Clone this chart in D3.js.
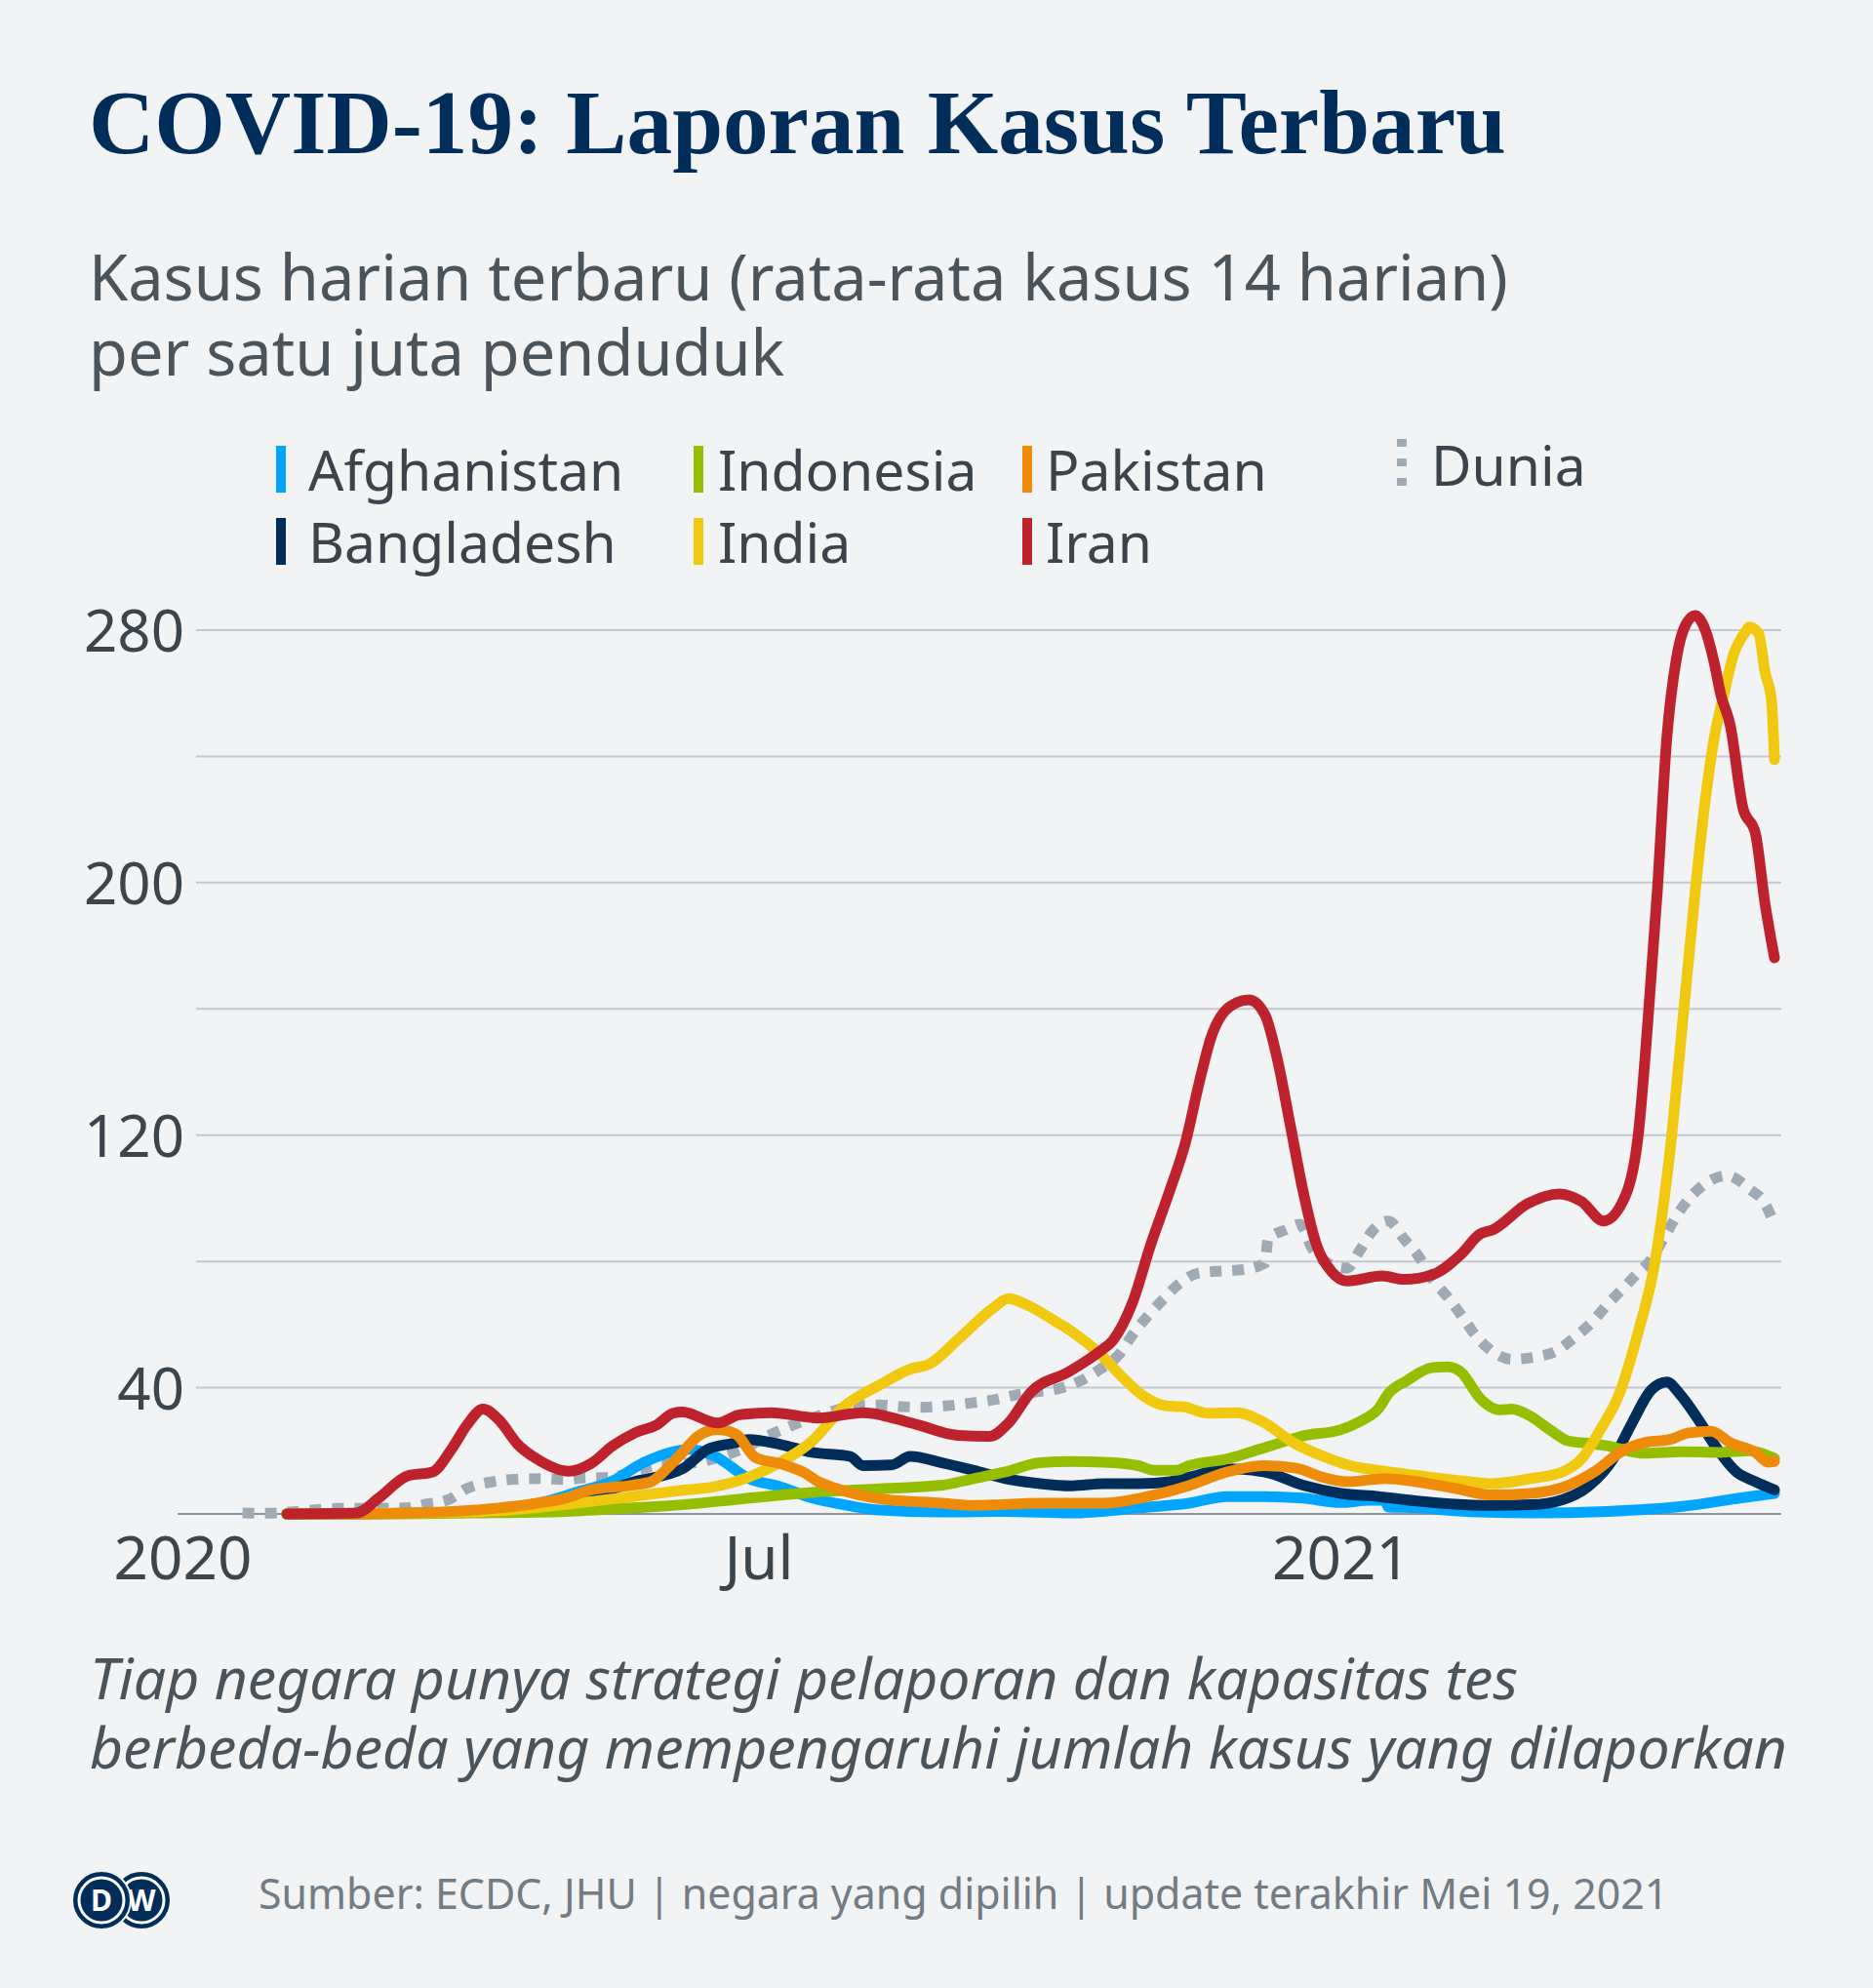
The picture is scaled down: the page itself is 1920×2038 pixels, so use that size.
<!DOCTYPE html>
<html>
<head>
<meta charset="utf-8">
<script src="https://cdn.jsdelivr.net/npm/d3@7"></script>
<style>
  html, body { margin: 0; padding: 0; background: #f1f3f5; }
  svg { display: block; }
</style>
</head>
<body>
<svg id="chart" width="1920" height="2038"></svg>
<script>
// ---------------- DATA ----------------
const titleText = "COVID-19: Laporan Kasus Terbaru";
const subtitleLines = ["Kasus harian terbaru (rata-rata kasus 14 harian)", "per satu juta penduduk"];
const noteLines = ["Tiap negara punya strategi pelaporan dan kapasitas tes",
                   "berbeda-beda yang mempengaruhi jumlah kasus yang dilaporkan"];
const sourceText = "Sumber: ECDC, JHU | negara yang dipilih | update terakhir Mei 19, 2021";

const xDomain = ["2020-01-01", "2021-05-18"];
const xTickDates = ["2020-01-01", "2020-07-01", "2021-01-01"];
const xTickLabels = ["2020", "Jul", "2021"];
const yGridValues = [0, 40, 80, 120, 160, 200, 240, 280];
const yTickValues = [40, 120, 200, 280];

const afghanistan = [
  ["2020-02-03",0],["2020-03-15",0.2],["2020-04-01",0.6],["2020-04-15",2],["2020-04-25",4],["2020-05-05",7],
  ["2020-05-15",10],["2020-05-26",16.4],["2020-06-04",19.7],["2020-06-09",20.5],["2020-06-17",18.4],
  ["2020-06-28",11.2],["2020-07-08",8.6],["2020-07-18",5],["2020-07-28",2.9],["2020-08-07",1.3],
  ["2020-08-28",0.6],["2020-09-17",0.8],["2020-10-08",0.3],["2020-10-29",1.9],["2020-11-14",3.4],
  ["2020-11-26",5.5],["2020-12-08",5.5],["2020-12-20",5],["2021-01-01",3.6],["2021-01-10",4.3],
  ["2021-01-15",4.3],["2021-01-16",2.2],["2021-01-25",2],["2021-02-06",1],["2021-03-02",0.3],
  ["2021-03-26",0.8],["2021-04-19",2.4],["2021-05-07",5],["2021-05-18",6.5]
];
const bangladesh = [
  ["2020-02-03",0],["2020-03-15",0.2],["2020-04-10",1.5],["2020-04-25",3],["2020-05-07",5],["2020-05-22",10],
  ["2020-06-07",14.3],["2020-06-15",20.5],["2020-06-23",22.4],["2020-06-28",23.6],["2020-07-08",22],
  ["2020-07-18",19.5],["2020-07-30",18.2],["2020-08-03",15.3],["2020-08-12",15.5],["2020-08-18",18.2],
  ["2020-08-28",16.2],["2020-09-07",13.8],["2020-09-17",11.2],["2020-09-28",9.6],["2020-10-08",8.9],
  ["2020-10-18",9.6],["2020-10-29",9.6],["2020-11-08",10.2],["2020-11-14",11.6],["2020-11-26",14.3],
  ["2020-12-08",13.3],["2020-12-20",9.1],["2021-01-01",6.5],["2021-01-13",5.5],["2021-01-25",4.1],
  ["2021-02-06",3.1],["2021-02-18",2.7],["2021-03-02",2.9],["2021-03-12",4.5],["2021-03-20",8.6],
  ["2021-03-28",17.4],["2021-04-03",28.8],["2021-04-09",39.2],["2021-04-14",41.8],["2021-04-18",38.1],
  ["2021-04-24",29.8],["2021-04-30",20.5],["2021-05-06",13.3],["2021-05-12",10.2],["2021-05-18",7.6]
];
const indonesia = [
  ["2020-02-03",0],["2020-03-01",0],["2020-04-01",0.3],["2020-05-01",0.8],["2020-05-22",1.9],["2020-06-07",2.9],
  ["2020-06-28",5],["2020-07-18",6.8],["2020-08-07",7.9],["2020-08-28",9.1],["2020-09-07",11.2],
  ["2020-09-17",13.3],["2020-09-28",16.2],["2020-10-08",16.6],["2020-10-18",16.4],["2020-10-29",15.3],
  ["2020-11-03",13.8],["2020-11-10",13.8],["2020-11-14",15.3],["2020-11-26",17.4],["2020-12-08",21],
  ["2020-12-20",24.7],["2021-01-01",26.7],["2021-01-07",29.3],["2021-01-13",33.5],["2021-01-16",38.1],
  ["2021-01-22",42.3],["2021-01-30",46.4],["2021-02-04",46.6],["2021-02-08",44.9],["2021-02-14",36.6],
  ["2021-02-20",33],["2021-02-24",33.2],["2021-03-02",30.9],["2021-03-08",26.7],["2021-03-14",23.1],
  ["2021-03-20",22.4],["2021-03-26",21.6],["2021-04-07",19.2],["2021-04-19",19.7],["2021-05-01",19.5],
  ["2021-05-10",20],["2021-05-18",17.6]
];
const india = [
  ["2020-02-03",0],["2020-03-15",0.3],["2020-04-10",1],["2020-05-01",3],["2020-05-22",5.5],["2020-06-07",7.5],
  ["2020-06-17",8.6],["2020-06-28",11.7],["2020-07-08",16.4],["2020-07-18",23.1],["2020-07-28",34],
  ["2020-08-08",40.7],["2020-08-18",45.9],["2020-08-24",47.5],["2020-09-02",55.2],["2020-09-13",65.1],
  ["2020-09-18",68.2],["2020-09-23",66.6],["2020-10-03",60.9],["2020-10-08",57.8],["2020-10-17",50.6],
  ["2020-10-24",43.3],["2020-10-31",37.1],["2020-11-07",34.2],["2020-11-12",34],["2020-11-20",31.9],
  ["2020-11-29",32.1],["2020-12-08",28.8],["2020-12-17",22.6],["2020-12-26",18.4],["2021-01-04",15.3],
  ["2021-01-13",13.8],["2021-01-25",12.2],["2021-02-06",10.7],["2021-02-18",9.6],["2021-03-02",11.2],
  ["2021-03-12",13.3],["2021-03-18",17.4],["2021-03-24",26.7],["2021-03-30",38.1],["2021-04-05",57.8],
  ["2021-04-10",78.5],["2021-04-15",115],["2021-04-19",156],["2021-04-23",197.6],["2021-04-26",225],
  ["2021-04-29",246],["2021-05-02",259.7],["2021-05-05",272],["2021-05-09",279.7],["2021-05-10",281],
  ["2021-05-13",279],["2021-05-15",266.7],["2021-05-17",258.3],["2021-05-18",239]
];
const pakistan = [
  ["2020-02-03",0],["2020-02-25",0],["2020-03-15",0.3],["2020-04-10",1.9],["2020-04-20",3.1],["2020-05-01",5],
  ["2020-05-09",7.6],["2020-05-22",9.1],["2020-05-28",10.2],["2020-06-03",15.3],["2020-06-07",19.5],
  ["2020-06-12",24.7],["2020-06-18",26.7],["2020-06-24",25.2],["2020-06-30",17.9],["2020-07-08",15.9],
  ["2020-07-15",13.3],["2020-07-20",10.2],["2020-07-28",7.3],["2020-08-07",5],["2020-08-28",3.4],
  ["2020-09-07",2.7],["2020-09-28",3.4],["2020-10-18",3.4],["2020-11-03",6],["2020-11-14",9],
  ["2020-11-26",13.3],["2020-12-08",15.3],["2020-12-18",14.5],["2020-12-26",11.7],["2021-01-03",10.2],
  ["2021-01-15",11.2],["2021-01-25",10.2],["2021-02-06",8.1],["2021-02-18",6],["2021-03-02",6.5],
  ["2021-03-14",9.1],["2021-03-22",13.3],["2021-03-31",20],["2021-04-07",22.6],["2021-04-15",23.6],
  ["2021-04-21",25.7],["2021-04-28",26.2],["2021-05-04",22.6],["2021-05-12",19.5],["2021-05-16",16.4],
  ["2021-05-18",16.6]
];
const iran = [
  ["2020-02-03",0],["2020-02-25",0.3],["2020-03-03",5],["2020-03-12",12],["2020-03-20",13.3],["2020-03-26",20.5],
  ["2020-03-31",28.3],["2020-04-05",33.2],["2020-04-10",29.8],["2020-04-16",22],["2020-04-22",17.4],
  ["2020-05-02",13.5],["2020-05-09",15.9],["2020-05-16",21.6],["2020-05-23",25.7],["2020-05-30",28.3],
  ["2020-06-04",31.9],["2020-06-07",32.3],["2020-06-18",28.8],["2020-06-25",31.4],["2020-07-05",32.1],
  ["2020-07-20",30.4],["2020-08-03",32.1],["2020-08-20",28.3],["2020-09-02",24.9],["2020-09-12",24.6],
  ["2020-09-18",28.8],["2020-09-25",38.5],["2020-10-07",45],["2020-10-17",51.6],["2020-10-21",55],
  ["2020-10-27",66.5],["2020-11-02",85.5],["2020-11-08",102.6],["2020-11-13",118],["2020-11-17",135.6],
  ["2020-11-21",151],["2020-11-27",160.8],["2020-12-03",162.9],["2020-12-08",158.2],["2020-12-12",143.8],
  ["2020-12-16",123.3],["2020-12-20",102.6],["2020-12-24",86.2],["2020-12-29",76.9],["2021-01-03",73.8],
  ["2021-01-14",75.4],["2021-01-21",74.3],["2021-01-30",75.8],["2021-02-08",82.3],["2021-02-14",88.7],
  ["2021-02-18",90],["2021-03-01",98.3],["2021-03-11",101.4],["2021-03-18",99],["2021-03-25",92.8],
  ["2021-04-01",101],["2021-04-05",120.4],["2021-04-08",156],["2021-04-11",197.6],["2021-04-14",246],
  ["2021-04-17",270.8],["2021-04-20",281.8],["2021-04-23",284.6],["2021-04-26",280.4],["2021-04-29",269.5],
  ["2021-05-01",259.7],["2021-05-04",250],["2021-05-08",223.8],["2021-05-12",215.5],["2021-05-15",193.4],
  ["2021-05-18",176.2]
];
const dunia = [
  ["2020-01-20",0.3],["2020-01-27",0.2],["2020-02-12",1.3],["2020-02-17",1.7],["2020-03-11",1.9],["2020-03-18",3.1],
  ["2020-03-25",4.5],["2020-03-31",8.1],["2020-04-08",10.2],["2020-04-15",11],["2020-04-23",11.2],
  ["2020-05-01",10.9],["2020-05-07",11.4],["2020-05-15",11.6],["2020-05-22",13.3],["2020-05-29",15.3],
  ["2020-06-12",16.4],["2020-06-20",18.4],["2020-06-28",21.6],["2020-07-05",25.2],["2020-07-11",27.8],
  ["2020-07-18",30.4],["2020-07-24",32.4],["2020-07-31",34.2],["2020-08-08",34.5],["2020-08-15",34],
  ["2020-08-22",33.8],["2020-08-29",34.2],["2020-09-05",35],["2020-09-13",36.1],["2020-09-20",37.6],
  ["2020-09-27",38.7],["2020-10-04",39.7],["2020-10-11",42.3],["2020-10-17",45.9],["2020-10-23",50.6],
  ["2020-10-27",56.5],["2020-11-01",62.7],["2020-11-06",68.1],["2020-11-11",73],["2020-11-17",76.3],
  ["2020-11-25",77],["2020-12-01",77.4],["2020-12-08",79.4],["2020-12-09",87.1],["2020-12-15",90.2],
  ["2020-12-19",91.8],["2020-12-23",84],["2020-12-28",79.4],["2021-01-03",77.9],["2021-01-07",83.5],
  ["2021-01-11",89.7],["2021-01-16",92.8],["2021-01-21",87.1],["2021-01-26",81],["2021-01-30",74.3],
  ["2021-02-04",68.4],["2021-02-08",63],["2021-02-12",57.3],["2021-02-17",52.1],["2021-02-24",49],
  ["2021-03-02",49.5],["2021-03-10",51.6],["2021-03-15",55.2],["2021-03-21",60.4],["2021-03-26",66.1],
  ["2021-03-31",71.3],["2021-04-05",76.5],["2021-04-09",80.6],["2021-04-13",87.3],["2021-04-17",94.3],
  ["2021-04-22",101],["2021-04-27",105.2],["2021-05-03",107.2],["2021-05-10",103],["2021-05-15",98.3],
  ["2021-05-18",91.8]
];

const seriesNames = ["Afghanistan", "Bangladesh", "Indonesia", "India", "Pakistan", "Iran", "Dunia"];
const seriesColors = ["#00a5ff", "#002d5a", "#96be00", "#f0c80f", "#ee8c0a", "#be232d", "#a0aab4"];
const seriesData = [afghanistan, bangladesh, indonesia, india, pakistan, iran, dunia];
// draw order (later = on top)
const drawOrder = ["Dunia", "Afghanistan", "Bangladesh", "Indonesia", "India", "Pakistan", "Iran"];

// ---------------- DRAW ----------------
const parse = d3.utcParse("%Y-%m-%d");
const svg = d3.select("#chart");
const sans = "'Noto Sans', 'Open Sans', sans-serif";

svg.append("rect").attr("width", 1920).attr("height", 2038).attr("fill", "#f1f3f5");

function fitWidth(sel, target) {
  const w = sel.node().getComputedTextLength();
  const fs = parseFloat(sel.attr("font-size"));
  const nfs = fs * target / w;
  sel.attr("font-size", nfs);
  return nfs;
}

// Title
const title = svg.append("text").attr("x", 91).attr("y", 157)
  .attr("font-family", "'Liberation Serif', serif").attr("font-weight", "bold")
  .attr("font-size", 92).attr("fill", "#002d5a").text(titleText);
fitWidth(title, 1453);

// Subtitle
const sub1 = svg.append("text").attr("x", 91).attr("y", 308)
  .attr("font-family", sans).attr("font-size", 60).attr("fill", "#4b535b").text(subtitleLines[0]);
const subFs = fitWidth(sub1, 1455);
svg.append("text").attr("x", 91).attr("y", 385)
  .attr("font-family", sans).attr("font-size", subFs).attr("fill", "#4b535b").text(subtitleLines[1]);

// Legend
const legendPos = {
  "Afghanistan": [283, 503, 33], "Bangladesh": [283, 577, 33],
  "Indonesia": [711, 503, 25], "India": [711, 577, 25],
  "Pakistan": [1048, 503, 24], "Iran": [1048, 577, 24],
  "Dunia": [1432, 498, 35]
};
seriesNames.forEach((name, i) => {
  const [lx, ly, dx] = legendPos[name];
  const g = svg.append("g");
  if (name === "Dunia") {
    g.append("line").attr("x1", lx + 5).attr("x2", lx + 5).attr("y1", ly - 48).attr("y2", ly)
      .attr("stroke", seriesColors[i]).attr("stroke-width", 10).attr("stroke-dasharray", "8,12");
  } else {
    g.append("rect").attr("x", lx).attr("y", ly - 46).attr("width", 10).attr("height", 48)
      .attr("fill", seriesColors[i]);
  }
  g.append("text").attr("x", lx + dx).attr("y", ly).attr("font-family", sans)
    .attr("font-size", 57).attr("fill", "#3c434a").text(name);
});

// Scales
const x = d3.scaleUtc().domain(xDomain.map(parse)).range([187, 1819]);
const y = d3.scaleLinear().domain([0, 280]).range([1552, 646]);

// Gridlines
svg.append("g").selectAll("line").data(yGridValues).join("line")
  .attr("x1", d => d === 0 ? 182 : 201).attr("x2", 1826)
  .attr("y1", d => y(d)).attr("y2", d => y(d))
  .attr("stroke", d => d === 0 ? "#8e959c" : "#c3c8ce").attr("stroke-width", 2);

// Y axis labels
const yAxis = svg.append("g").attr("transform", "translate(189,0)")
  .call(d3.axisLeft(y).tickValues(yTickValues).tickSize(0).tickPadding(0));
yAxis.select(".domain").remove();
yAxis.selectAll("text").attr("font-family", sans).attr("font-size", 60).attr("fill", "#3c444c")
  .attr("x", 0).attr("dy", "0.36em");

// X axis labels
const xAxis = svg.append("g").attr("transform", "translate(0,1552)")
  .call(d3.axisBottom(x).tickValues(xTickDates.map(parse)).tickSize(0)
    .tickFormat((d, i) => xTickLabels[i]));
xAxis.select(".domain").remove();
xAxis.selectAll("text").attr("font-family", sans).attr("font-size", 62).attr("fill", "#3c444c")
  .attr("y", 67).attr("dy", 0);

// Lines
const line = d3.line().x(d => x(parse(d[0]))).y(d => y(d[1])).curve(d3.curveMonotoneX);
const linesG = svg.append("g");
drawOrder.forEach(name => {
  const i = seriesNames.indexOf(name);
  const p = linesG.append("path").attr("d", line(seriesData[i]))
    .attr("fill", "none").attr("stroke", seriesColors[i]);
  if (name === "Dunia") {
    p.attr("stroke-width", 11).attr("stroke-dasharray", "12,11");
  } else {
    p.attr("stroke-width", 11).attr("stroke-linecap", "round").attr("stroke-linejoin", "round");
  }
});

// Note
const n2 = svg.append("text").attr("x", 92).attr("y", 1813)
  .attr("font-family", sans).attr("font-style", "italic").attr("font-size", 54)
  .attr("fill", "#4b535b").text(noteLines[1]);
const noteFs = fitWidth(n2, 1740);
svg.append("text").attr("x", 92).attr("y", 1742)
  .attr("font-family", sans).attr("font-style", "italic").attr("font-size", noteFs)
  .attr("fill", "#4b535b").text(noteLines[0]);

// Logo
const logo = svg.append("g");
[[145, "W"], [104, "D"]].forEach(([cx, ch]) => {
  logo.append("circle").attr("cx", cx).attr("cy", 1948).attr("r", 30).attr("fill", "#002d5a")
    .attr("stroke", "#f1f3f5").attr("stroke-width", 2);
  logo.append("circle").attr("cx", cx).attr("cy", 1948).attr("r", 23).attr("fill", "none")
    .attr("stroke", "#ffffff").attr("stroke-width", 3);
  logo.append("text").attr("x", cx).attr("y", 1959).attr("text-anchor", "middle")
    .attr("font-family", sans).attr("font-weight", "bold").attr("font-size", 30)
    .attr("fill", "#ffffff").text(ch);
});

// Source
const src = svg.append("text").attr("x", 265).attr("y", 1957)
  .attr("font-family", sans).attr("font-size", 44).attr("fill", "#737b83").text(sourceText);
fitWidth(src, 1446);
</script>
</body>
</html>
